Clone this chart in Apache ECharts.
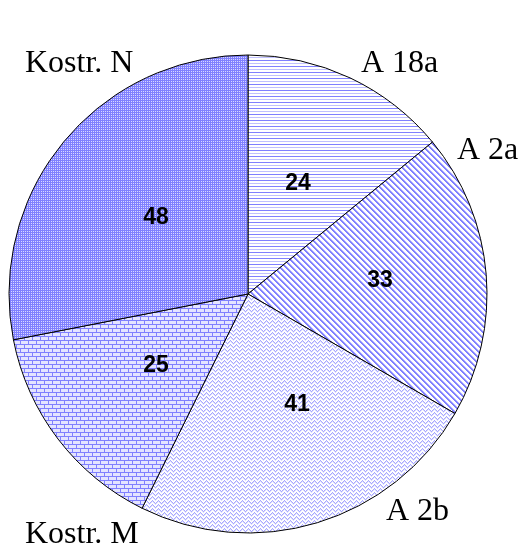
<!DOCTYPE html>
<html><head><meta charset="utf-8">
<script src="https://cdn.jsdelivr.net/npm/echarts@6/dist/echarts.min.js"></script>
<style>html,body{margin:0;padding:0;background:#fff;}#c{width:522px;height:553px;}</style>
</head><body><div id="c"></div>
<script>
const categories = ['A 18a', 'A 2a', 'A 2b', 'Kostr. M', 'Kostr. N'];
const values = [24, 33, 41, 25, 48];

// label anchor positions
const outerPos = [[361, 64], [457, 151], [386, 512], [25, 535], [25, 64]];
const innerPos = [[298, 184], [380, 281], [297, 405], [156, 366], [156, 218]];

function mk(w, h, draw) {
  const c = document.createElement('canvas');
  c.width = w; c.height = h;
  const g = c.getContext('2d');
  g.fillStyle = '#ffffff'; g.fillRect(0, 0, w, h);
  draw(g);
  return { image: c, repeat: 'repeat' };
}
const B = '#8080ff', L = '#c0c0ff';
const patterns = [
  mk(1, 6, g => { g.fillStyle = B; g.fillRect(0, 0, 1, 1); g.fillStyle = L; g.fillRect(0, 3, 1, 1); }),
  mk(6, 6, g => { g.fillStyle = B; for (let i = 0; i < 6; i++) { g.fillRect(i, i, 1, 1); g.fillRect((i + 1) % 6, i, 1, 1); } g.fillStyle = L; for (let i = 0; i < 6; i++) { g.fillRect((i + 2) % 6, i, 1, 1); } }),
  mk(6, 4, g => { g.fillStyle = '#a8a8ff'; const ys = [2, 1, 0, 1, 2, 3]; for (let i = 0; i < 6; i++) g.fillRect(i, ys[i], 1, 1); g.fillStyle = '#dcdcff'; for (let i = 0; i < 6; i++) g.fillRect(i, (ys[i] + 1) % 4, 1, 1); }),
  mk(8, 8, g => { g.fillStyle = '#e4e4ff'; g.fillRect(0, 0, 8, 8); g.fillStyle = B; g.fillRect(0, 0, 8, 1); g.fillRect(0, 4, 8, 1); g.fillRect(0, 0, 1, 4); g.fillRect(4, 4, 1, 4); }),
  mk(2, 2, g => { g.fillStyle = B; g.fillRect(0, 0, 2, 2); g.fillStyle = '#d8d8ff'; g.fillRect(1, 1, 1, 1); })
];

const chart = echarts.init(document.getElementById('c'), null, { renderer: 'canvas' });
const data = categories.map((n, i) => ({ name: n, value: values[i], itemStyle: { color: patterns[i] } }));
chart.setOption({
  animation: false,
  graphic: categories.map((n, i) => ({
    type: 'text', x: outerPos[i][0], y: outerPos[i][1], silent: true,
    style: { text: n, fontFamily: 'Liberation Serif', fontSize: 32, fill: '#000', textAlign: 'left', textVerticalAlign: 'middle' }
  })),
  series: [
    {
      type: 'pie', center: [248, 294], radius: [0, 239], startAngle: 90, clockwise: true,
      avoidLabelOverlap: false,
      itemStyle: { borderColor: '#000', borderWidth: 1 },
      label: { show: true, position: 'inside', formatter: '{c}', fontFamily: 'Liberation Sans', fontWeight: 'bold', fontSize: 23, color: '#000' },
      labelLine: { show: false },
      labelLayout: function (p) { const q = innerPos[p.dataIndex]; return { x: q[0], y: q[1], align: 'center', verticalAlign: 'middle' }; },
      emphasis: { disabled: true },
      data: data
    }
  ]
});
</script></body></html>
